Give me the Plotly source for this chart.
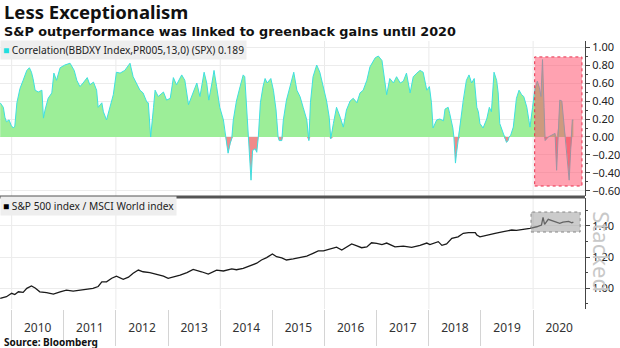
import numpy as np
import pandas as pd
import plotly.graph_objects as go

# ---- data (decimal years) ----
corr_t = [2009.78, 2009.84, 2009.87, 2009.90, 2009.95, 2009.99, 2010.03, 2010.06, 2010.10, 2010.16,
          2010.22, 2010.29, 2010.34, 2010.38, 2010.41, 2010.45, 2010.51, 2010.58, 2010.61, 2010.64,
          2010.70, 2010.77, 2010.81, 2010.86, 2010.93, 2011.02, 2011.12, 2011.20, 2011.25, 2011.31,
          2011.37, 2011.45, 2011.50, 2011.57, 2011.63, 2011.66, 2011.73, 2011.76, 2011.82, 2011.89,
          2011.95, 2012.01, 2012.08, 2012.17, 2012.27, 2012.33, 2012.40, 2012.46, 2012.52, 2012.59,
          2012.62, 2012.665, 2012.72, 2012.75, 2012.81, 2012.91, 2012.97, 2013.04, 2013.10, 2013.16,
          2013.26, 2013.32, 2013.39, 2013.48, 2013.55, 2013.61, 2013.69, 2013.74, 2013.78, 2013.84,
          2013.88, 2013.93, 2013.99, 2014.06, 2014.10, 2014.15, 2014.19, 2014.22, 2014.25, 2014.31,
          2014.38, 2014.44, 2014.47, 2014.51, 2014.54, 2014.57, 2014.59, 2014.62, 2014.67, 2014.70,
          2014.73, 2014.77, 2014.82, 2014.86, 2014.90, 2014.97, 2015.02, 2015.07, 2015.11, 2015.13,
          2015.18, 2015.21, 2015.27, 2015.34, 2015.41, 2015.47, 2015.53, 2015.59, 2015.66, 2015.70,
          2015.73, 2015.78, 2015.85, 2015.91, 2015.98, 2016.04, 2016.09, 2016.12, 2016.17, 2016.23,
          2016.30, 2016.36, 2016.42, 2016.49, 2016.55, 2016.62, 2016.68, 2016.74, 2016.81, 2016.87,
          2016.97, 2017.03, 2017.10, 2017.16, 2017.19, 2017.25, 2017.32, 2017.38, 2017.45, 2017.51,
          2017.57, 2017.64, 2017.70, 2017.77, 2017.83, 2017.89, 2017.96, 2018.01, 2018.05, 2018.08,
          2018.15, 2018.21, 2018.28, 2018.31, 2018.37, 2018.40, 2018.46, 2018.48, 2018.51, 2018.53,
          2018.56, 2018.60, 2018.66, 2018.72, 2018.77, 2018.82, 2018.87, 2018.92, 2018.95, 2018.98,
          2019.04, 2019.11, 2019.16, 2019.20, 2019.25, 2019.30, 2019.33, 2019.36, 2019.41, 2019.44,
          2019.49, 2019.52, 2019.54, 2019.57, 2019.62, 2019.68, 2019.73, 2019.78, 2019.82, 2019.88,
          2019.94, 2019.99, 2020.03, 2020.08, 2020.12, 2020.15, 2020.18, 2020.21, 2020.23, 2020.29,
          2020.36, 2020.42, 2020.45, 2020.48, 2020.51, 2020.55, 2020.59, 2020.62, 2020.65, 2020.69,
          2020.72, 2020.75, 2020.77]
corr_v = [0.38, 0.33, 0.22, 0.17, 0.19, 0.13, 0.10, 0.12, 0.38, 0.54,
          0.63, 0.74, 0.77, 0.72, 0.65, 0.52, 0.50, 0.52, 0.21, 0.30,
          0.43, 0.49, 0.71, 0.63, 0.77, 0.80, 0.82, 0.74, 0.63, 0.56,
          0.60, 0.66, 0.58, 0.61, 0.52, 0.33, 0.38, 0.28, 0.19, 0.36,
          0.47, 0.72, 0.71, 0.74, 0.82, 0.67, 0.58, 0.52, 0.49, 0.39,
          0.38, 0.00, 0.33, 0.52, 0.45, 0.50, 0.41, 0.43, 0.66, 0.58,
          0.69, 0.63, 0.36, 0.49, 0.60, 0.45, 0.72, 0.60, 0.41, 0.60,
          0.74, 0.56, 0.33, 0.19, 0.00, -0.18, -0.07, -0.02, 0.19, 0.40,
          0.56, 0.69, 0.67, 0.33, 0.00, -0.29, -0.48, -0.15, -0.13, -0.17,
          0.00, 0.38, 0.56, 0.65, 0.60, 0.65, 0.52, 0.30, 0.00, -0.04,
          -0.04, 0.19, 0.41, 0.56, 0.72, 0.52, 0.45, 0.33, 0.19, -0.04,
          0.38, 0.67, 0.80, 0.72, 0.56, 0.40, 0.22, -0.02, 0.15, 0.33,
          0.22, 0.11, 0.30, 0.40, 0.43, 0.38, 0.49, 0.52, 0.63, 0.78,
          0.88, 0.90, 0.85, 0.55, 0.47, 0.65, 0.60, 0.67, 0.60, 0.62,
          0.71, 0.49, 0.67, 0.71, 0.74, 0.72, 0.52, 0.56, 0.38, 0.10,
          0.19, 0.20, 0.18, 0.31, 0.33, 0.26, 0.10, 0.00, -0.29, -0.18,
          -0.04, 0.15, 0.41, 0.63, 0.69, 0.60, 0.65, 0.33, 0.28, 0.15,
          0.10, 0.20, 0.33, 0.28, 0.72, 0.63, 0.49, 0.15, 0.07, 0.02,
          -0.06, -0.04, 0.00, 0.02, 0.11, 0.43, 0.52, 0.47, 0.45, 0.33,
          0.11, 0.33, 0.52, 0.62, 0.55, 0.45, 0.86, 0.33, -0.04, 0.00,
          0.02, 0.04, -0.37, 0.11, 0.41, 0.40, 0.15, 0.00, -0.18, -0.48,
          -0.14, 0.19, 0.189]

ratio_t = [2009.78, 2009.90, 2010.00, 2010.06, 2010.13, 2010.22, 2010.29, 2010.38, 2010.45, 2010.54,
           2010.67, 2010.80, 2010.93, 2011.05, 2011.18, 2011.31, 2011.44, 2011.56, 2011.66, 2011.73,
           2011.82, 2011.92, 2012.01, 2012.14, 2012.24, 2012.33, 2012.43, 2012.52, 2012.65, 2012.78,
           2012.91, 2013.00, 2013.10, 2013.23, 2013.36, 2013.48, 2013.64, 2013.77, 2013.93, 2014.06,
           2014.22, 2014.31, 2014.44, 2014.57, 2014.70, 2014.79, 2014.89, 2015.00, 2015.08, 2015.18,
           2015.27, 2015.40, 2015.53, 2015.66, 2015.78, 2015.88, 2015.98, 2016.10, 2016.23, 2016.33,
           2016.42, 2016.52, 2016.62, 2016.71, 2016.81, 2016.90, 2017.00, 2017.10, 2017.19, 2017.35,
           2017.51, 2017.67, 2017.83, 2017.96, 2018.02, 2018.18, 2018.25, 2018.34, 2018.44, 2018.56,
           2018.66, 2018.76, 2018.89, 2018.92, 2018.98, 2019.11, 2019.27, 2019.43, 2019.59, 2019.68,
           2019.81, 2019.94, 2020.07, 2020.16, 2020.19, 2020.22, 2020.29, 2020.36, 2020.42, 2020.48,
           2020.51, 2020.57, 2020.61, 2020.68, 2020.74, 2020.77]
ratio_v = [0.934, 0.944, 0.966, 0.958, 0.976, 0.972, 0.998, 1.013, 1.000, 0.976,
           0.970, 0.961, 0.976, 0.987, 0.980, 0.987, 0.990, 0.998, 1.010, 1.040,
           1.040, 1.063, 1.077, 1.056, 1.070, 1.095, 1.116, 1.105, 1.100, 1.090,
           1.077, 1.063, 1.070, 1.084, 1.100, 1.120, 1.105, 1.090, 1.116, 1.110,
           1.123, 1.118, 1.127, 1.142, 1.160, 1.181, 1.196, 1.220, 1.202, 1.195,
           1.181, 1.188, 1.196, 1.206, 1.224, 1.239, 1.239, 1.252, 1.263, 1.245,
           1.263, 1.284, 1.272, 1.260, 1.265, 1.292, 1.288, 1.280, 1.290, 1.266,
           1.270, 1.262, 1.275, 1.290, 1.280, 1.299, 1.275, 1.285, 1.320, 1.330,
           1.353, 1.357, 1.357, 1.342, 1.330, 1.342, 1.353, 1.363, 1.374, 1.372,
           1.378, 1.385, 1.395, 1.406, 1.455, 1.410, 1.443, 1.435, 1.428, 1.420,
           1.417, 1.425, 1.428, 1.430, 1.420, 1.425]

corr_label = "Correlation(BBDXY Index,PR005,13,0) (SPX) 0.189"
ratio_label = "S&P 500 index / MSCI World index"
title = "Less Exceptionalism"
subtitle = "S&P outperformance was linked to greenback gains until 2020"
source = "Source: Bloomberg"


def to_date(t):
    y = int(np.floor(t))
    a = pd.Timestamp(year=y, month=1, day=1)
    b = pd.Timestamp(year=y + 1, month=1, day=1)
    return a + (b - a) * (t - y)


cx = [to_date(t) for t in corr_t]
rx = [to_date(t) for t in ratio_t]
cv = np.array(corr_v)

FONT = "Noto Sans"
fig = go.Figure()
fig.add_trace(go.Scatter(x=cx, y=np.maximum(cv, 0), mode="lines", line=dict(width=0),
                         fill="tozeroy", fillcolor="#9cee98", hoverinfo="skip", yaxis="y"))
fig.add_trace(go.Scatter(x=cx, y=np.minimum(cv, 0), mode="lines", line=dict(width=0),
                         fill="tozeroy", fillcolor="#f08a8a", hoverinfo="skip", yaxis="y"))
fig.add_trace(go.Scatter(x=cx, y=cv, mode="lines", line=dict(color="#3ee0e0", width=1),
                         hoverinfo="skip", yaxis="y"))
fig.add_trace(go.Scatter(x=rx, y=ratio_v, mode="lines", line=dict(color="#1a1a1a", width=1.3),
                         hoverinfo="skip", yaxis="y2"))

top_dom = [0.4216, 1.0]
bot_dom = [0.0, 0.414]

shapes = []
for yr in range(2010, 2021, 2):
    for d in (top_dom, bot_dom):
        shapes.append(dict(type="line", xref="x", yref="paper", x0=f"{yr}-01-01", x1=f"{yr}-01-01",
                           y0=d[0], y1=d[1], line=dict(color="#eaeaea", width=1), layer="below"))
# panel separator
shapes.append(dict(type="line", xref="paper", yref="paper", x0=0, x1=1, y0=0.418, y1=0.418,
                   line=dict(color="#555555", width=3)))
# highlight boxes
shapes.append(dict(type="rect", xref="x", yref="y", x0=to_date(2020.03), x1=to_date(2020.935),
                   y0=-0.545, y1=0.89, fillcolor="rgba(255,70,100,0.5)",
                   line=dict(color="#e8304c", width=1, dash="dot")))
shapes.append(dict(type="rect", xref="x", yref="y2", x0=to_date(2019.96), x1=to_date(2020.90),
                   y0=1.361, y1=1.49, fillcolor="rgba(160,160,160,0.55)",
                   line=dict(color="#888888", width=1, dash="dot")))

ann = [
    dict(text=f"<b>{title}</b>", x=0.003, y=1.109, xref="paper", yref="paper", xanchor="left",
         yanchor="middle", showarrow=False, font=dict(family=FONT, size=18.5, color="#111")),
    dict(text=f"<b>{subtitle}</b>", x=0.003, y=1.0373, xref="paper", yref="paper", xanchor="left",
         yanchor="middle", showarrow=False, font=dict(family="DejaVu Sans", size=12.8, color="#111")),
    dict(text=f"<b>{source}</b>", x=0.003, y=-0.123, xref="paper", yref="paper", xanchor="left",
         yanchor="middle", showarrow=False, font=dict(family=FONT, size=10, color="#111")),
    dict(text=f"<span style='color:#22dede'>■</span> {corr_label}", x=0, y=0.968, xref="paper",
         yref="paper", xanchor="left", yanchor="middle", showarrow=False, bgcolor="#eeeeee",
         borderpad=2, font=dict(family=FONT, size=10.2, color="#222")),
    dict(text=f"<span style='color:#000'>■</span> {ratio_label}", x=0, y=0.386, xref="paper",
         yref="paper", xanchor="left", yanchor="middle", showarrow=False, bgcolor="#eeeeee",
         borderpad=2, font=dict(family=FONT, size=10.2, color="#222")),
    dict(text="Stacked", x=1.0285, y=0.2127, xref="paper", yref="paper", xanchor="center",
         yanchor="middle", textangle=90, showarrow=False,
         font=dict(family=FONT, size=22, color="#c8c8c8")),
]

yax_common = dict(side="right", anchor="x", showgrid=True, gridcolor="#ececec", zeroline=False,
                  showline=True, linecolor="#444444", linewidth=1, ticks="outside", ticklen=4,
                  tickcolor="#444444", tickformat=".2f", tick0=0, dtick=0.2,
                  minor=dict(ticks="outside", dtick=0.1, ticklen=2, tickcolor="#444444"),
                  tickfont=dict(family=FONT, size=11, color="#222"), fixedrange=True)

fig.update_layout(
    width=620, height=348, margin=dict(l=0, r=35, t=41, b=39),
    paper_bgcolor="white", plot_bgcolor="white", showlegend=False,
    xaxis=dict(type="date", range=[to_date(2009.776), to_date(2020.993)], anchor="y2",
               tick0="2010-01-01", dtick="M12", tickformat="%Y", ticklabelmode="period",
               ticks="outside", ticklen=36, tickcolor="#d4d4d4", showgrid=False, zeroline=False,
               showline=False, ticklabelstandoff=-28,
               tickfont=dict(family=FONT, size=12, color="#333")),
    yaxis=dict(domain=top_dom, range=[-0.656, 1.067], **yax_common),
    yaxis2=dict(domain=bot_dom, range=[0.865, 1.58], **yax_common),
    shapes=shapes, annotations=ann,
)

fig.write_html("out.html")
